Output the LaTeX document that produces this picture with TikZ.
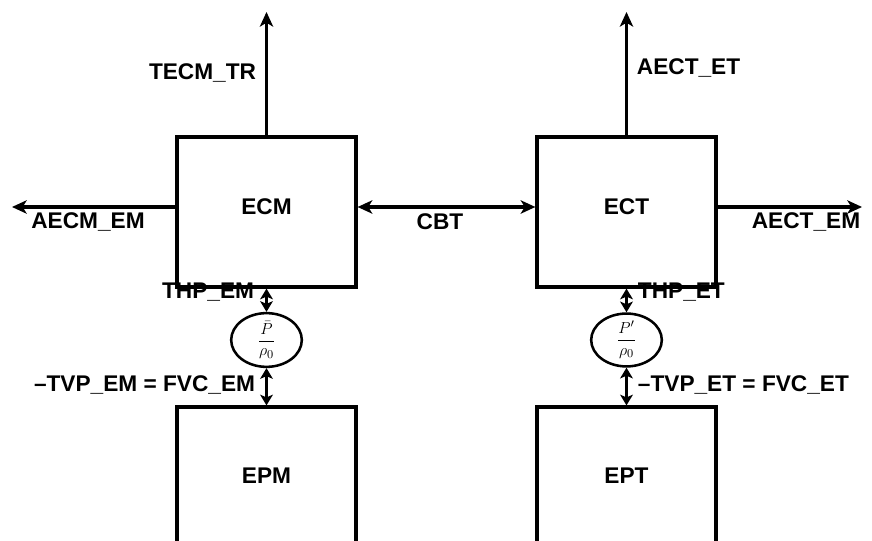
\documentclass[tikz,border=0pt]{standalone}
\usepackage{fontspec}
\setmainfont{Liberation Sans}
\usetikzlibrary{arrows.meta,shapes.geometric}
\begin{document}
\begin{tikzpicture}[x=0.75pt,y=-0.75pt,
  line width=2.4pt,
  >={Stealth[length=11pt,width=10pt,inset=3pt]},
  shortarr/.style={{Stealth[length=8pt,width=9.5pt,inset=2pt]}-{Stealth[length=8pt,width=9.5pt,inset=2pt]}},
  blk/.style={draw,minimum width=134.25pt,minimum height=112.5pt,inner sep=0pt},
  lowblk/.style={draw,minimum width=134.25pt,minimum height=135pt,inner sep=0pt},
  ell/.style={draw,ellipse,minimum width=53pt,minimum height=38.5pt,inner sep=0pt,line width=1.9pt,font=\fontsize{13}{15}\selectfont},
  lbl/.style={font=\fontsize{17}{20}\selectfont\bfseries,inner sep=1pt}]
\useasboundingbox (0,0) rectangle (872,541);
\clip (0,0) rectangle (872,541);
\node[blk] (ecm) at (266.5,212) {};
\node[blk] (ect) at (626.5,212) {};
\node[lowblk] (epm) at (266.5,497) {};
\node[lowblk] (ept) at (626.5,497) {};
\node[lbl] (tecm) at (266.5,207) {ECM};
\node[lbl] (tect) at (626.5,207) {ECT};
\node[lbl] (tepm) at (266.5,476) {EPM};
\node[lbl] (tept) at (626.5,476) {EPT};
\node[ell] (e1) at (266.5,340) {$\displaystyle\frac{\bar P}{\rho_0}$};
\node[ell] (e2) at (626.5,340) {$\displaystyle\frac{P'}{\rho_0}$};
\coordinate (up1) at (266.5,12);
\coordinate (up2) at (626.5,12);
\coordinate (lf) at (12,207);
\coordinate (rt) at (862,207);
\draw[->] (ecm.north) -- (up1);
\draw[->] (ect.north) -- (up2);
\draw[->] (ecm.west |- lf) -- (lf);
\draw[->] (ect.east |- rt) -- (rt);
\draw[<->] (ecm.east |- lf) -- (ect.west |- lf);
\draw[shortarr] (ecm.south) -- (e1.north);
\draw[shortarr] (e1.south) -- (epm.north);
\draw[shortarr] (ect.south) -- (e2.north);
\draw[shortarr] (e2.south) -- (ept.north);
\node[lbl,anchor=east] (l1) at (259,73) {TECM\_TR};
\node[lbl,anchor=west] (l2) at (634,68) {AECT\_ET};
\node[lbl] (l3) at (88,222) {AECM\_EM};
\node[lbl] (l4) at (440,222) {CBT};
\node[lbl] (l5) at (806,222) {AECT\_EM};
\node[lbl,anchor=east] (l6) at (257,292) {THP\_EM};
\node[lbl,anchor=west] (l7) at (635,292) {THP\_ET};
\node[lbl,anchor=east] (l8) at (258,385) {–TVP\_EM = FVC\_EM};
\node[lbl,anchor=west] (l9) at (635,385) {–TVP\_ET = FVC\_ET};
\end{tikzpicture}
\end{document}
